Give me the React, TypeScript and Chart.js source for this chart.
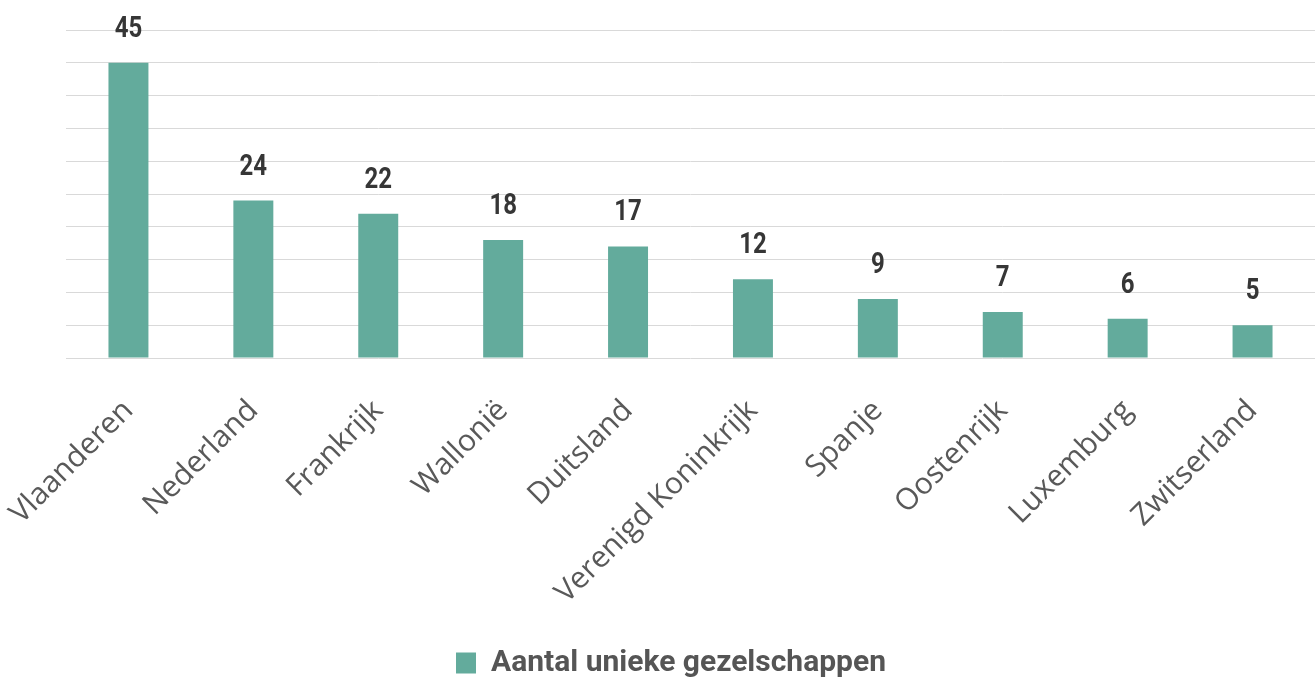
import React, { useEffect, useRef } from "react";
import { Chart, registerables } from "chart.js";

Chart.register(...registerables);

const categories = [
  "Vlaanderen",
  "Nederland",
  "Frankrijk",
  "Wallonië",
  "Duitsland",
  "Verenigd Koninkrijk",
  "Spanje",
  "Oostenrijk",
  "Luxemburg",
  "Zwitserland",
];
const values = [45, 24, 22, 18, 17, 12, 9, 7, 6, 5];
const seriesLabel = "Aantal unieke gezelschappen";
const yMin = 0;
const yMax = 50;
const yStep = 5;

const BAR_COLOR = "#63ab9c";

const valueLabelPlugin = {
  id: "valueLabels",
  afterDatasetsDraw(chart: any) {
    const ctx = chart.ctx;
    const meta = chart.getDatasetMeta(0);
    const data = chart.data.datasets[0].data;
    ctx.save();
    ctx.fillStyle = "#363636";
    ctx.font = 'bold 30px "Roboto", sans-serif';
    ctx.textAlign = "center";
    ctx.textBaseline = "alphabetic";
    meta.data.forEach((bar: any, i: number) => {
      ctx.save();
      ctx.translate(bar.x, bar.y - 26);
      ctx.scale(0.8, 1);
      ctx.fillText(String(data[i]), 0, 0);
      ctx.restore();
    });
    ctx.restore();
  },
};

export default function App() {
  const ref = useRef<HTMLCanvasElement | null>(null);

  useEffect(() => {
    document.body.style.margin = "0";
    const canvas = ref.current;
    if (!canvas) return;
    const chart = new Chart(canvas, {
      type: "bar",
      data: {
        labels: categories,
        datasets: [
          {
            label: seriesLabel,
            data: values,
            backgroundColor: BAR_COLOR,
            borderWidth: 0,
            barPercentage: 0.64,
            categoryPercentage: 0.5,
          },
        ],
      },
      options: {
        animation: false,
        responsive: false,
        maintainAspectRatio: false,
        layout: { padding: { top: 30, left: 27, right: 0, bottom: -10 } },
        plugins: {
          legend: {
            position: "bottom",
            labels: {
              boxWidth: 20,
              boxHeight: 21,
              padding: 1,
              color: "#555555",
              font: { family: "Roboto", weight: "bold", size: 30 },
            },
          },
          tooltip: { enabled: false },
        },
        scales: {
          x: {
            grid: { display: false },
            border: { display: false },
            afterFit(scale: any) {
              scale.paddingLeft = 0;
              scale.paddingRight = 0;
              scale.height = 289;
            },
            ticks: {
              minRotation: 45,
              maxRotation: 45,
              color: "#595959",
              padding: 27,
              font: { family: "Open Sans", size: 30 },
            },
          },
          y: {
            min: yMin,
            max: yMax,
            border: { display: false },
            afterFit(scale: any) {
              scale.width = 39;
            },
            grid: { color: "#d9d9d9", lineWidth: 1, drawTicks: false, tickLength: 0 },
            ticks: { display: false, stepSize: yStep },
          },
        },
      },
      plugins: [valueLabelPlugin],
    });
    return () => chart.destroy();
  }, []);

  return <canvas ref={ref} width={1315} height={678} style={{ display: "block" }} />;
}
